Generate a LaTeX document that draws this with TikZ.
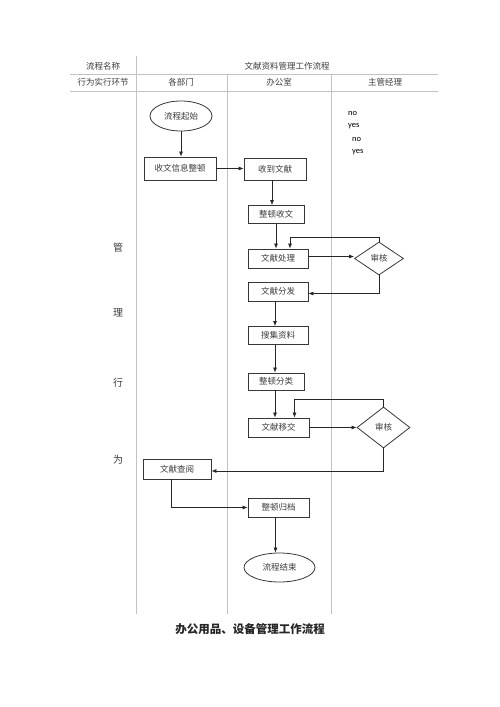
\documentclass[tikz,border=0pt]{standalone}
\usepackage{fontspec}
\setmainfont{Noto Sans CJK SC}
\newfontfamily\yesnofont{Carlito}
\usetikzlibrary{arrows.meta, shapes.geometric}
\definecolor{laneGray}{RGB}{195,195,195}
\definecolor{boxLine}{RGB}{55,55,55}
\definecolor{darkText}{RGB}{60,60,60}
\tikzset{
    stepbox/.style={
        rectangle,
        draw=boxLine,
        line width=0.8pt,
        fill=white,
        align=center,
        inner sep=0pt,
        minimum width=60pt,
        minimum height=19pt,
        text=darkText,
        font=\fontsize{8.5}{10}\selectfont
    },
    endbox/.style={
        ellipse,
        draw=boxLine,
        line width=0.8pt,
        fill=white,
        inner sep=0pt,
        text=darkText,
        font=\fontsize{8.5}{10}\selectfont
    },
    checkbox/.style={
        diamond,
        draw=boxLine,
        line width=0.8pt,
        fill=white,
        inner sep=0pt,
        text=darkText,
        font=\fontsize{8.5}{10}\selectfont
    },
    flowarrow/.style={-{Latex[length=5pt, width=4pt]}, line width=0.7pt, draw=black!85},
    laneline/.style={draw=laneGray, line width=0.8pt},
    headtext/.style={text=darkText, font=\fontsize{8.5}{10}\selectfont},
    sidetext/.style={text=darkText, font=\fontsize{10}{12}\selectfont},
    choicetext/.style={anchor=west, inner sep=0pt, font=\yesnofont\fontsize{8.5}{10}\selectfont}
}

\begin{document}
\begin{tikzpicture}[x=1pt, y=-1pt]
    \useasboundingbox (0,0) rectangle (500,707);

    % table and lanes
    \draw[laneline] (70,74) -- (438,74);
    \draw[laneline] (70,91) -- (438,91);
    \draw[laneline] (136,56) -- (136,614);
    \draw[laneline] (227,74) -- (227,614);
    \draw[laneline] (331,74) -- (331,614);

    \node[headtext] (hname) at (103,66) {流程名称};
    \node[headtext] (htitle) at (287,66) {文献资料管理工作流程};
    \node[headtext] (hstep) at (103,82) {行为实行环节};
    \node[headtext] (hdept) at (181,82) {各部门};
    \node[headtext] (hoffice) at (279,82) {办公室};
    \node[headtext] (hboss) at (385,82) {主管经理};

    \node[sidetext] (side1) at (118,248) {管};
    \node[sidetext] (side2) at (118,313) {理};
    \node[sidetext] (side3) at (118,383) {行};
    \node[sidetext] (side4) at (118,460) {为};

    \node[choicetext] (no1) at (348,113) {no};
    \node[choicetext] (yes1) at (348,126.5) {yes};
    \node[choicetext] (no2) at (352,139.5) {no};
    \node[choicetext] (yes2) at (352,152.5) {yes};

    % flow
    \node[endbox, minimum width=62pt, minimum height=30pt] (start) at (181,116) {流程起始};
    \node[stepbox, minimum width=72pt, minimum height=23pt] (collect) at (180,168.5) {收文信息整顿};
    \node[stepbox, minimum width=62pt, minimum height=22pt] (receive) at (275,169) {收到文献};
    \node[stepbox, minimum width=56pt, minimum height=18pt] (sortin) at (276,214.5) {整顿收文};
    \node[stepbox] (handle) at (278,258.5) {文献处理};
    \node[checkbox, minimum width=49pt, minimum height=33pt] (check1) at (379,258.5) {审核};
    \node[stepbox] (dist) at (278,291.5) {文献分发};
    \node[stepbox, minimum height=18pt] (gather) at (278,335.5) {搜集资料};
    \node[stepbox, minimum width=56pt, minimum height=17pt] (classify) at (276,381.5) {整顿分类};
    \node[stepbox, minimum width=61pt] (transfer) at (278.5,427.5) {文献移交};
    \node[checkbox, minimum width=53pt, minimum height=41pt] (check2) at (383.5,427.5) {审核};
    \node[stepbox, minimum width=68pt, minimum height=20pt] (lookup) at (177,469) {文献查阅};
    \node[stepbox, minimum width=61pt] (archive) at (278.5,507.5) {整顿归档};
    \node[endbox, minimum width=71pt, minimum height=29pt] (finish) at (279.5,567.5) {流程结束};

    \draw[flowarrow] (start) -- (start |- collect.north);
    \draw[flowarrow] (collect) -- (collect -| receive.west);
    \draw[flowarrow] ([xshift=-3pt]receive.south) -- ([xshift=-3pt]receive.south |- sortin.north);
    \draw[flowarrow] (sortin) -- (sortin |- handle.north);
    \draw[flowarrow] ([yshift=2pt]handle.east) -- ([yshift=2pt]handle.east -| check1.west);
    \draw[flowarrow] (check1.north) -- ++(0,-4) -| ([xshift=12pt]handle.north);
    \draw[flowarrow] (check1.south) |- ([yshift=-2pt]dist.east);
    \draw[flowarrow] ([xshift=-3pt]dist.south) -- ([xshift=-3pt]dist.south |- gather.north);
    \draw[flowarrow] ([xshift=-3pt]gather.south) -- ([xshift=-3pt]gather.south |- classify.north);
    \draw[flowarrow] ([xshift=-1pt]classify.south) -- ([xshift=-1pt]classify.south |- transfer.north);
    \draw[flowarrow] (transfer) -- (transfer -| check2.west);
    \draw[flowarrow] (check2.north) -- ++(0,-7) -| ([xshift=16pt]transfer.north);
    \draw[flowarrow] (check2.south) |- ([yshift=-2pt]lookup.east);
    \draw[flowarrow] ([xshift=-6pt]lookup.south) |- (archive.west);
    \draw[flowarrow] ([xshift=-3pt]archive.south) -- ([xshift=-3pt]archive.south |- finish.north);

    \node[text=black!85, font=\bfseries\fontsize{11.5}{13}\selectfont] (caption) at (250,629) {办公用品、设备管理工作流程};
\end{tikzpicture}
\end{document}
